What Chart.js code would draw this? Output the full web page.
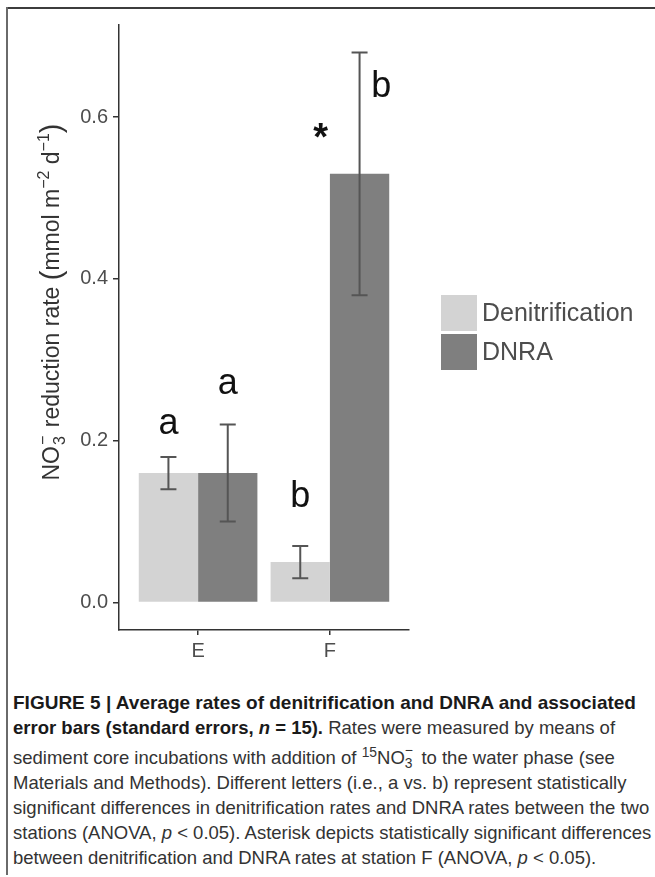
<!DOCTYPE html>
<html>
<head>
<meta charset="utf-8">
<script src="https://cdn.jsdelivr.net/npm/chart.js@4.4.0/dist/chart.umd.min.js"></script>
<style>
  html, body { margin: 0; padding: 0; background: #fff; }
  body { width: 655px; height: 877px; position: relative; overflow: hidden; font-family: "Liberation Sans", Arial, sans-serif; }
  #frameTop { position: absolute; left: 6px; top: 7px; width: 649px; height: 2px; background: #3c3c3c; }
  #frameLeft { position: absolute; left: 6px; top: 7px; width: 2px; height: 868px; background: #6a6a6a; }
  #wrap { position: absolute; left: 0; top: 0; width: 655px; height: 690px; }
  #caption { position: absolute; left: 13px; top: 690px; font-size: 18.5px; line-height: 25px; color: #333; }
  #caption div { white-space: nowrap; }
  #caption b { color: #1a1a1a; }
  #caption .l1 b { font-size: 19px; }
  .stack { display: inline-block; position: relative; width: 0.62em; height: 1em; vertical-align: baseline; }
  .stack .up { position: absolute; left: 0; top: -0.55em; font-size: 0.75em; }
  .stack .dn { position: absolute; left: 0; top: 0.35em; font-size: 0.75em; }
  sup { font-size: 0.75em; }
</style>
</head>
<body>
<div id="frameTop"></div>
<div id="frameLeft"></div>
<div id="wrap"><canvas id="chart"></canvas></div>
<div id="caption">
  <div class="l1"><b>FIGURE 5 | Average rates of denitrification and DNRA and associated</b></div>
  <div><b>error bars (standard errors, <i>n</i> = 15).</b> Rates were measured by means of</div>
  <div>sediment core incubations with addition of <sup>15</sup>NO<span class="stack"><span class="up">−</span><span class="dn">3</span></span> to the water phase (see</div>
  <div>Materials and Methods). Different letters (i.e., a vs. b) represent statistically</div>
  <div>significant differences in denitrification rates and DNRA rates between the two</div>
  <div>stations (ANOVA, <i>p</i> &lt; 0.05). Asterisk depicts statistically significant differences</div>
  <div>between denitrification and DNRA rates at station F (ANOVA, <i>p</i> &lt; 0.05).</div>
</div>
<script>
// Data
const categories = ['E', 'F'];
const seriesNames = ['Denitrification', 'DNRA'];
const denitrification = [0.16, 0.05];
const dnra = [0.16, 0.53];
const denitLow = [0.14, 0.03];
const denitHigh = [0.18, 0.07];
const dnraLow = [0.10, 0.38];
const dnraHigh = [0.22, 0.68];
const yTicks = [0.0, 0.2, 0.4, 0.6];

// Significance labels (text, x in category units, y in data units)
const labelText = ['a', 'a', 'b', '*', 'b'];
const labelX = [0.775, 1.225, 1.775, 1.93, 2.39];
const labelY = [0.22, 0.27, 0.13, 0.572, 0.637];

const LIGHT = '#d3d3d3';
const DARK = '#7f7f7f';

// Error bars drawn on top of the bars
const errorBars = {
    id: 'errorBars',
    afterDatasetsDraw(chart) {
        const ctx = chart.ctx;
        const y = chart.scales.y;
        const lows = [denitLow, dnraLow];
        const highs = [denitHigh, dnraHigh];
        ctx.save();
        ctx.strokeStyle = '#555';
        ctx.lineWidth = 2;
        chart.data.datasets.forEach((ds, d) => {
            chart.getDatasetMeta(d).data.forEach((bar, i) => {
                const top = y.getPixelForValue(highs[d][i]);
                const bot = y.getPixelForValue(lows[d][i]);
                ctx.beginPath();
                ctx.moveTo(bar.x, top); ctx.lineTo(bar.x, bot);
                ctx.moveTo(bar.x - 8, top); ctx.lineTo(bar.x + 8, top);
                ctx.moveTo(bar.x - 8, bot); ctx.lineTo(bar.x + 8, bot);
                ctx.stroke();
            });
        });
        ctx.restore();
    }
};

// Letters and asterisk
const sigLabels = {
    id: 'sigLabels',
    afterDatasetsDraw(chart) {
        const ctx = chart.ctx;
        const xs = chart.scales.x, ys = chart.scales.y;
        ctx.save();
        ctx.fillStyle = '#111';
        ctx.textAlign = 'center';
        ctx.textBaseline = 'middle';
        labelText.forEach((t, i) => {
            ctx.font = t === '*' ? 'bold 38px "Liberation Sans", Arial' : '36px "Liberation Sans", Arial';
            ctx.fillText(t, xs.getPixelForValue(labelX[i]), ys.getPixelForValue(labelY[i]));
        });
        ctx.restore();
    }
};

// Y axis title with sub/superscripts
const yTitle = {
    id: 'yTitle',
    afterDraw(chart) {
        const ctx = chart.ctx;
        const big = '23px "Liberation Sans", Arial';
        const small = '16px "Liberation Sans", Arial';
        const paren = '29px "Liberation Sans", Arial';
        const parts = [
            { t: 'NO', f: big, dy: 0 },
            { stack: ['\u2212', '3'], f: small },
            { t: ' reduction rate ', f: big, dy: 0 },
            { t: '(', f: paren, dy: 2 },
            { t: 'mmol m', f: big, dy: 0 },
            { t: '\u22122', f: small, dy: -10 },
            { t: ' d', f: big, dy: 0 },
            { t: '\u22121', f: small, dy: -10 },
            { t: ')', f: paren, dy: 2 }
        ];
        ctx.save();
        let total = 0;
        parts.forEach(p => {
            ctx.font = p.f;
            p.w = p.stack ? Math.max(...p.stack.map(s => ctx.measureText(s).width)) + 3 : ctx.measureText(p.t).width;
            total += p.w;
        });
        ctx.translate(51, 302);
        ctx.rotate(-Math.PI / 2);
        ctx.fillStyle = '#333';
        ctx.textBaseline = 'alphabetic';
        ctx.textAlign = 'left';
        let x = -total / 2;
        const base = 8;
        parts.forEach(p => {
            ctx.font = p.f;
            if (p.stack) {
                ctx.fillText(p.stack[0], x + 1, base - 11);
                ctx.fillText(p.stack[1], x + 1, base + 6);
            } else {
                ctx.fillText(p.t, x, base + p.dy);
            }
            x += p.w;
        });
        ctx.restore();
    }
};

// Legend on the right
const sideLegend = {
    id: 'sideLegend',
    afterDraw(chart) {
        const ctx = chart.ctx;
        const colors = [LIGHT, DARK];
        ctx.save();
        ctx.font = '25px "Liberation Sans", Arial';
        ctx.textBaseline = 'middle';
        seriesNames.forEach((name, i) => {
            const top = 295 + i * 39;
            ctx.fillStyle = colors[i];
            ctx.fillRect(441, top, 36, 36);
            ctx.fillStyle = '#4d4d4d';
            ctx.fillText(name, 482, top + 19);
        });
        ctx.restore();
    }
};

const ctx = document.getElementById('chart').getContext('2d');
new Chart(ctx, {
    type: 'bar',
    data: {
        datasets: [
            {
                label: seriesNames[0],
                data: categories.map((c, i) => ({ x: i + 1, y: denitrification[i] })),
                backgroundColor: LIGHT
            },
            {
                label: seriesNames[1],
                data: categories.map((c, i) => ({ x: i + 1, y: dnra[i] })),
                backgroundColor: DARK
            }
        ]
    },
    options: {
        responsive: true,
        maintainAspectRatio: false,
        devicePixelRatio: 1,
        animation: false,
        events: [],
        categoryPercentage: 0.9,
        barPercentage: 1.0,
        layout: { padding: { left: 0, right: 246, top: 25, bottom: 10 } },
        plugins: {
            legend: { display: false },
            tooltip: { enabled: false }
        },
        scales: {
            x: {
                type: 'linear',
                min: 0.4,
                max: 2.6,
                offset: false,
                afterBuildTicks(scale) {
                    scale.ticks = categories.map((c, i) => ({ value: i + 1 }));
                },
                afterFit(scale) { scale.height = 50; },
                ticks: {
                    callback: (v) => categories[Math.round(v) - 1],
                    color: '#4d4d4d',
                    font: { family: '"Liberation Sans", Arial', size: 20 },
                    padding: 4,
                    maxRotation: 0
                },
                grid: { display: true, drawOnChartArea: false, drawTicks: true, tickLength: 5, color: '#333', lineWidth: 1.5, offset: false },
                border: { display: true, color: '#333', width: 1.5 }
            },
            y: {
                type: 'linear',
                min: -0.034,
                max: 0.714,
                afterBuildTicks(scale) {
                    scale.ticks = yTicks.map(v => ({ value: v }));
                },
                afterFit(scale) { scale.width = 119; },
                ticks: {
                    callback: (v) => v.toFixed(1),
                    color: '#4d4d4d',
                    font: { family: '"Liberation Sans", Arial', size: 20 },
                    padding: 5
                },
                grid: { display: true, drawOnChartArea: false, drawTicks: true, tickLength: 6, color: '#333', lineWidth: 1.5 },
                border: { display: true, color: '#333', width: 1.5 }
            }
        }
    },
    plugins: [errorBars, sigLabels, yTitle, sideLegend]
});
</script>
</body>
</html>
